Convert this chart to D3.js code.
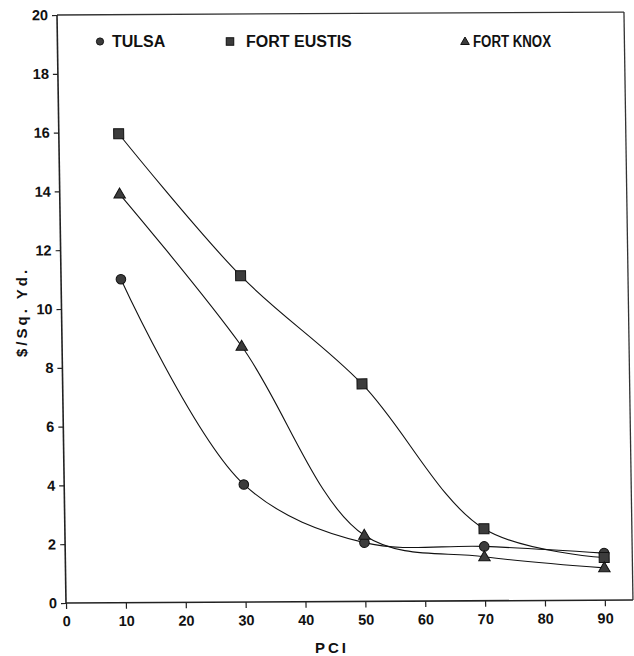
<!DOCTYPE html>
<html>
<head>
<meta charset="utf-8">
<script src="https://cdn.jsdelivr.net/npm/d3@7"></script>
<style>
  html, body { margin: 0; padding: 0; background: #fff; }
  svg { display: block; }
  text { font-family: "Liberation Sans", Arial, sans-serif; font-weight: bold; fill: #111; }
</style>
</head>
<body>
<svg id="chart" width="634" height="656"></svg>
<script>
// ---- data ----
const pci = [10, 30, 50, 70, 90];
const tulsa = [11.0, 4.0, 2.0, 1.85, 1.6];
const fortEustis = [15.95, 11.1, 7.4, 2.45, 1.45];
const fortKnox = [13.9, 8.7, 2.25, 1.5, 1.1];
const seriesNames = ["TULSA", "FORT EUSTIS", "FORT KNOX"];
const xTicks = [0, 10, 20, 30, 40, 50, 60, 70, 80, 90];
const yTicks = [0, 2, 4, 6, 8, 10, 12, 14, 16, 18, 20];

const series = [
  { name: seriesNames[0], values: tulsa, marker: "circle" },
  { name: seriesNames[1], values: fortEustis, marker: "square" },
  { name: seriesNames[2], values: fortKnox, marker: "triangle" }
];

const svg = d3.select("#chart");
const x0 = 66, y0 = 603;
const x = d3.scaleLinear().domain([0, 94.7]).range([x0, 633]);
const y = d3.scaleLinear().domain([0, 20]).range([y0, 15]);

// slight scan skew of the original
const g = svg.append("g")
  .attr("transform", `translate(${x0},${y0}) skewX(0.877) skewY(-0.3) translate(${-x0},${-y0})`);

// frame (top and right)
g.append("line").attr("x1", x(0)).attr("x2", x(94.7)).attr("y1", y(20)).attr("y2", y(20))
  .attr("stroke", "#333").attr("stroke-width", 1.3);
g.append("line").attr("x1", x(94.7)).attr("x2", x(94.7)).attr("y1", y(20)).attr("y2", y(0))
  .attr("stroke", "#333").attr("stroke-width", 1.3);

// axes
const xAxis = d3.axisBottom(x).tickValues(xTicks).tickSize(6).tickPadding(7).tickSizeOuter(0);
const yAxis = d3.axisLeft(y).tickValues(yTicks).tickSize(5).tickPadding(4).tickSizeOuter(0);

const gx = g.append("g").attr("transform", `translate(0,${y0})`).call(xAxis);
const gy = g.append("g").attr("transform", `translate(${x0},0)`).call(yAxis);
[gx, gy].forEach(a => {
  a.select(".domain").attr("stroke", "#222").attr("stroke-width", 1.6);
  a.selectAll(".tick line").attr("stroke", "#222").attr("stroke-width", 1.2);
  a.selectAll(".tick text").attr("font-size", 14.5).attr("font-weight", "bold")
    .attr("fill", "#111").attr("font-family", "Liberation Sans, Arial, sans-serif");
});
gy.select(".domain").attr("d", `M0,${y(20)}V${y(0)}`);
gx.select(".domain").attr("d", `M0,0H${x(94.7) - x0}`).attr("transform", `translate(${x0},0)`);

// lines
const line = d3.line()
  .x((d, i) => x(pci[i]))
  .y(d => y(d))
  .curve(d3.curveCatmullRom.alpha(0.5));

series.forEach(s => {
  g.append("path").datum(s.values)
    .attr("d", line)
    .attr("fill", "none")
    .attr("stroke", "#111")
    .attr("stroke-width", 1.1);
});

// markers
function drawMarker(sel, type, cx, cy, k) {
  const fill = "#3c3c3c", stroke = "#111";
  if (type === "circle") {
    sel.append("circle").attr("cx", cx).attr("cy", cy).attr("r", 4.8 * k)
      .attr("fill", fill).attr("stroke", stroke).attr("stroke-width", 1);
  } else if (type === "square") {
    const s = 10 * k;
    sel.append("rect").attr("x", cx - s / 2).attr("y", cy - s / 2).attr("width", s).attr("height", s)
      .attr("fill", fill).attr("stroke", stroke).attr("stroke-width", 1);
  } else {
    const h = 10 * k, w = 11.5 * k;
    sel.append("path")
      .attr("d", `M${cx},${cy - h * 0.6}L${cx + w / 2},${cy + h * 0.4}L${cx - w / 2},${cy + h * 0.4}Z`)
      .attr("fill", fill).attr("stroke", stroke).attr("stroke-width", 1);
  }
}
series.forEach(s => {
  s.values.forEach((v, i) => drawMarker(g, s.marker, x(pci[i]), y(v), 1));
});

// legend
const legendX = [100, 230, 465];
const legendTextX = [112, 246, 473];
series.forEach((s, i) => {
  drawMarker(svg, s.marker, legendX[i], 41.5, 0.75);
  const t = svg.append("text").attr("x", legendTextX[i]).attr("y", 47)
    .attr("font-size", 16).text(s.name);
  if (i === 2) {
    t.attr("textLength", 78).attr("lengthAdjust", "spacingAndGlyphs");
  }
});

// axis titles
svg.append("text")
  .attr("x", 332).attr("y", 653)
  .attr("text-anchor", "middle")
  .attr("font-size", 15)
  .attr("letter-spacing", 3)
  .text("PCI");

svg.append("text")
  .attr("transform", "translate(27,312) rotate(-90)")
  .attr("text-anchor", "middle")
  .attr("font-size", 15)
  .attr("letter-spacing", 3)
  .text("$/Sq. Yd.");
</script>
</body>
</html>
